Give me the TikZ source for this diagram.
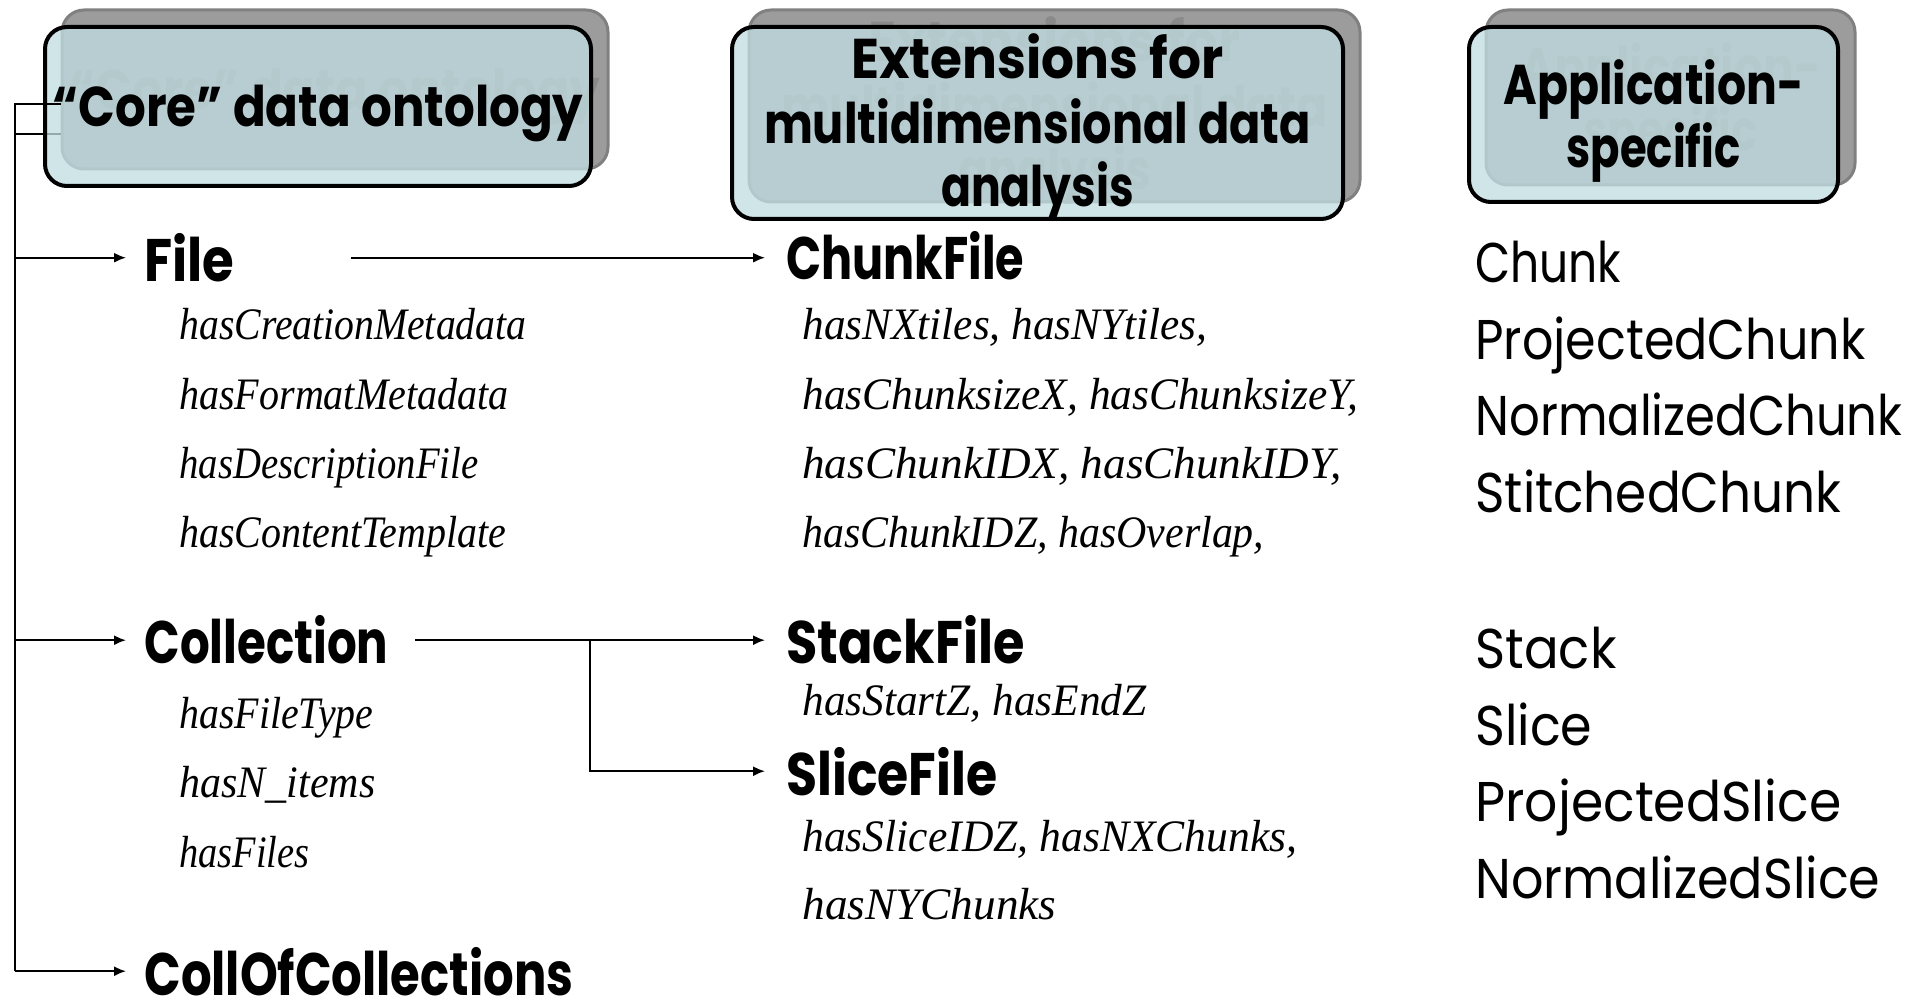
\documentclass[tikz,border=0pt]{standalone}
\usepackage{fontspec}
\usepackage{graphicx}
\usetikzlibrary{arrows.meta}
\newfontfamily\comic{Poppins}
\newfontfamily\propfont{Liberation Serif}
\definecolor{shadowfill}{RGB}{156,156,156}
\definecolor{shadowedge}{RGB}{128,128,128}
\definecolor{ghosttext}{RGB}{138,138,138}
\definecolor{boxfill}{RGB}{193,221,225}
% set a text at a given width, keeping its height
\newcommand\fitw[2]{\resizebox{#1}{\height}{#2}}

\tikzset{
  shadowbox/.style={draw=shadowedge, fill=shadowfill, line width=1.5pt,
    rounded corners=11pt, inner sep=0pt},
  frontbox/.style={draw=black, line width=2pt, fill=boxfill, fill opacity=0.77,
    rounded corners=11pt, inner sep=0pt},
  headtxt/.style={font=\comic\bfseries\fontsize{28}{30}\selectfont, inner sep=0pt, anchor=base},
  ghosttxt/.style={headtxt, text=ghosttext},
  cls/.style={font=\comic\bfseries\fontsize{30}{32}\selectfont, inner sep=0pt, anchor=base west},
  prop/.style={font=\propfont\itshape\fontsize{22.5}{24}\selectfont, inner sep=0pt, anchor=base west},
  app/.style={font=\comic\fontsize{28}{30}\selectfont, inner sep=0pt, anchor=base west},
  link/.style={line width=0.9pt},
  arrow/.style={link, -{Latex[length=6pt,width=5pt]}},
}

\begin{document}
\begin{tikzpicture}[x=0.5pt,y=-0.5pt]
\useasboundingbox (0,0) rectangle (1911,999);

% ---- shadow boxes with their faded titles
\node[shadowbox, minimum width=273pt, minimum height=79.5pt] (sh1) at (335,89.5) {};
\node[shadowbox, minimum width=305.5pt, minimum height=96pt] (sh2) at (1054.5,106) {};
\node[shadowbox, minimum width=184.5pt, minimum height=87.5pt] (sh3) at (1670.5,97.5) {};

\node[ghosttxt] (g1) at (335,110) {\fitw{265.5pt}{“Core” data ontology}};
\node[ghosttxt] (g2a) at (1054.5,62) {\fitw{186pt}{Extensions for}};
\node[ghosttxt] (g2b) at (1054.5,127) {\fitw{273.5pt}{multidimensional data}};
\node[ghosttxt] (g2c) at (1054.5,190) {\fitw{96.5pt}{analysis}};
\node[ghosttxt] (g3a) at (1670.5,88) {\fitw{150pt}{Application-}};
\node[ghosttxt] (g3b) at (1670.5,151) {\fitw{87pt}{specific}};

% ---- trunk of the core ontology tree (starts behind the first box)
\coordinate (trunktop) at (15,104);
\coordinate (trunkmid) at (15,134);
\draw[link] (sh1.west |- trunkmid) -- (trunkmid);

% ---- front title boxes
\node[frontbox, minimum width=273pt, minimum height=79.5pt] (hd1) at (318,106.5) {};
\node[frontbox, minimum width=305.5pt, minimum height=96pt] (hd2) at (1037.5,123) {};
\node[frontbox, minimum width=184.5pt, minimum height=87.5pt] (hd3) at (1653.5,114.5) {};

\node[headtxt] (t1) at (318,127) {\fitw{265.5pt}{“Core” data ontology}};
\node[headtxt] (t2a) at (1037.5,79) {\fitw{186pt}{Extensions for}};
\node[headtxt] (t2b) at (1037.5,144) {\fitw{273.5pt}{multidimensional data}};
\node[headtxt] (t2c) at (1037.5,207) {\fitw{96.5pt}{analysis}};
\node[headtxt] (t3a) at (1653.5,105) {\fitw{150pt}{Application-}};
\node[headtxt] (t3b) at (1653.5,168) {\fitw{87pt}{specific}};

% ---- core classes
\node[cls] (file) at (144,281.5) {\fitw{45pt}{File}};
\node[cls] (coll) at (144,664) {\fitw{122pt}{Collection}};
\node[cls] (coc) at (144,995) {\fitw{214.5pt}{CollOfCollections}};

\node[prop] (f1) at (179,340) {\fitw{173.5pt}{hasCreationMetadata}};
\node[prop] (f2) at (179,410) {\fitw{164.5pt}{hasFormatMetadata}};
\node[prop] (f3) at (179,479) {\fitw{149.5pt}{hasDescriptionFile}};
\node[prop] (f4) at (179,548) {\fitw{163.5pt}{hasContentTemplate}};

\node[prop] (c1) at (179,728) {\fitw{97pt}{hasFileType}};
\node[prop] (c2) at (179,797) {\fitw{98pt}{hasN\_items}};
\node[prop] (c3) at (179,867) {\fitw{65pt}{hasFiles}};

% ---- multidimensional extensions
\node[cls] (chunkfile) at (786,280) {\fitw{119pt}{ChunkFile}};
\node[cls] (stackfile) at (786,664) {\fitw{119pt}{StackFile}};
\node[cls] (slicefile) at (786,795) {\fitw{105.5pt}{SliceFile}};

\node[prop] (k1) at (802,340) {\fitw{202.5pt}{hasNXtiles, hasNYtiles,}};
\node[prop] (k2) at (802,410) {\fitw{278pt}{hasChunksizeX, hasChunksizeY,}};
\node[prop] (k3) at (802,479) {\fitw{269.5pt}{hasChunkIDX, hasChunkIDY,}};
\node[prop] (k4) at (802,548) {\fitw{231pt}{hasChunkIDZ, hasOverlap,}};

\node[prop] (s1) at (802,715) {\fitw{172pt}{hasStartZ, hasEndZ}};
\node[prop] (l1) at (802,851) {\fitw{247.5pt}{hasSliceIDZ, hasNXChunks,}};
\node[prop] (l2) at (802,919) {\fitw{127pt}{hasNYChunks}};

% ---- application-specific classes
\node[app] (a1) at (1475,283) {\fitw{73pt}{Chunk}};
\node[app] (a2) at (1475,360) {\fitw{195pt}{ProjectedChunk}};
\node[app] (a3) at (1475,436) {\fitw{213.5pt}{NormalizedChunk}};
\node[app] (a4) at (1475,513) {\fitw{183pt}{StitchedChunk}};
\node[app] (a5) at (1475,668) {\fitw{70.5pt}{Stack}};
\node[app] (a6) at (1475,745) {\fitw{58.5pt}{Slice}};
\node[app] (a7) at (1475,821) {\fitw{183pt}{ProjectedSlice}};
\node[app] (a8) at (1475,898) {\fitw{202.5pt}{NormalizedSlice}};

% ---- connectors
\draw[link] (sh1.west |- trunktop) -- (trunktop) -- (trunktop |- coc.west);
\draw[arrow, shorten >=9pt] (trunktop |- file.west) -- (file.west);
\draw[arrow, shorten >=9pt] (trunktop |- coll.west) -- (coll.west);
\draw[arrow, shorten >=9pt] (trunktop |- coc.west) -- (coc.west);

\draw[arrow, shorten <=58pt, shorten >=10.5pt] (file.east) -- (file.east -| chunkfile.west);
\coordinate (split) at (590,0);
\draw[arrow, shorten <=13pt, shorten >=10.5pt] (coll.east) -- (coll.east -| stackfile.west);
\draw[arrow, shorten >=10.5pt] (split |- coll.east) |- (slicefile.west);
\end{tikzpicture}
\end{document}
